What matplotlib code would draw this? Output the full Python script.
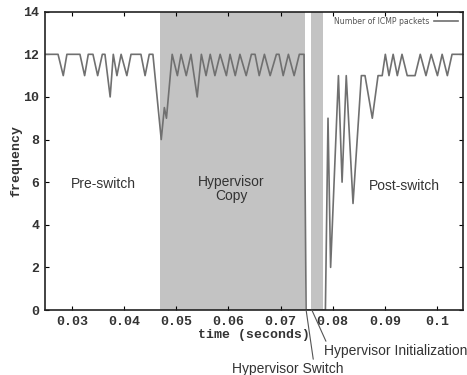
import matplotlib
matplotlib.use("Agg")
import matplotlib.pyplot as plt

# ---- data ----
time_s = [0.0248, 0.0273, 0.0283, 0.0290, 0.0315, 0.0324, 0.0331, 0.0340, 0.0349,
          0.0358, 0.0363, 0.0373, 0.0379, 0.0386, 0.0394, 0.0405, 0.0413, 0.0432,
          0.0440, 0.0448, 0.0455, 0.0471, 0.0477, 0.0481, 0.0492,
          0.0502, 0.0509, 0.0519, 0.0528, 0.0540, 0.0548, 0.0557, 0.0565, 0.0574,
          0.0584, 0.0596, 0.0603, 0.0613, 0.0622, 0.0634, 0.0644, 0.0651, 0.0659,
          0.0669, 0.0680, 0.0692, 0.0697, 0.0705, 0.0715, 0.0726, 0.0736, 0.0745,
          0.0749, 0.0786, 0.0791, 0.0796, 0.0811, 0.0818, 0.0826, 0.0839, 0.0855,
          0.0862, 0.0876, 0.0887, 0.0895, 0.0901, 0.0908, 0.0916, 0.0924, 0.0933,
          0.0943, 0.0958, 0.0968, 0.0979, 0.0989, 0.1001, 0.1010, 0.1020, 0.1029,
          0.1050]
frequency = [12, 12, 11, 12, 12, 11, 12, 12, 11,
             12, 12, 10, 12, 11, 12, 11, 12, 12,
             11, 12, 12, 8, 9.5, 9, 12,
             11, 12, 11, 12, 10, 12, 11, 12, 11,
             12, 11, 12, 11, 12, 11, 12, 12, 11,
             12, 11, 12, 12, 11, 12, 11, 12, 12,
             0, 0, 9, 2, 11, 6, 11, 5, 11,
             11, 9, 11, 11, 12, 11, 12, 11, 12,
             11, 11, 12, 11, 12, 11, 12, 11, 12,
             12]

# phase boundaries (seconds)
copy_span = (0.0469, 0.0747)
init_span = (0.0758, 0.0781)

x_ticks = [0.03, 0.04, 0.05, 0.06, 0.07, 0.08, 0.09, 0.1]
x_tick_labels = ["0.03", "0.04", "0.05", "0.06", "0.07", "0.08", "0.09", "0.1"]
y_ticks = [0, 2, 4, 6, 8, 10, 12, 14]

phase_labels = ["Pre-switch", "Hypervisor\nCopy", "Post-switch"]
phase_label_x = [0.0360, 0.0605, 0.0937]
phase_label_y = [5.9, 5.7, 5.8]

# ---- figure ----
fig = plt.figure(figsize=(4.67, 3.75), dpi=100)
ax = fig.add_axes([0.0964, 0.1733, 0.8950, 0.7955])

ax.axvspan(*copy_span, color="#c3c3c3", lw=0, zorder=0)
ax.axvspan(*init_span, color="#c3c3c3", lw=0, zorder=0)

ax.plot(time_s, frequency, color="#707070", lw=1.2, label="Number of ICMP packets",
        zorder=2)

ax.set_xlim(0.0248, 0.105)
ax.set_ylim(0, 14)
ax.set_xticks(x_ticks)
ax.set_xticklabels(x_tick_labels)
ax.set_yticks(y_ticks)

mono = {"family": "Liberation Mono", "weight": "bold"}
for lab in ax.get_xticklabels() + ax.get_yticklabels():
    lab.set_fontfamily("Liberation Mono")
    lab.set_fontweight("bold")
    lab.set_fontsize(9.5)
    lab.set_color("#333333")

ax.tick_params(direction="in", top=True, right=True, length=3, width=0.8, pad=4)
for s in ax.spines.values():
    s.set_linewidth(1.2)
    s.set_color("#222222")

ax.set_xlabel("time (seconds)", fontdict=mono, fontsize=9.5, labelpad=1, color="#333333")
ax.set_ylabel("frequency", fontdict=mono, fontsize=9.5, labelpad=1, color="#333333")

for txt, tx, ty in zip(phase_labels, phase_label_x, phase_label_y):
    ax.text(tx, ty, txt, ha="center", va="center", fontsize=10,
            family="Liberation Sans", color="#333333", linespacing=1.0)

leg = ax.legend(loc="upper right", frameon=False, markerfirst=False,
                prop={"family": "DejaVu Sans", "size": 5.6}, handlelength=3.0,
                borderaxespad=0.3, handletextpad=0.6)
for t in leg.get_texts():
    t.set_color("#555555")

# pointers below the axis
ax.annotate("Hypervisor Switch", xy=(0.0749, 0), xycoords="data",
            xytext=(288 / 467, 1 - 369 / 375), textcoords="figure fraction",
            ha="center", va="center", fontsize=10, family="Liberation Sans",
            color="#333333", annotation_clip=False,
            arrowprops=dict(arrowstyle="-", color="#555555", lw=0.8,
                            shrinkA=0, shrinkB=0,
                            relpos=(0.73, 1.0)))
ax.annotate("Hypervisor Initialization", xy=(0.0760, 0), xycoords="data",
            xytext=(396 / 467, 1 - 351 / 375), textcoords="figure fraction",
            ha="center", va="center", fontsize=10, family="Liberation Sans",
            color="#333333", annotation_clip=False,
            arrowprops=dict(arrowstyle="-", color="#555555", lw=0.8,
                            shrinkA=0, shrinkB=0,
                            relpos=(0.02, 1.0)))

fig.savefig("out.png", dpi=100)
